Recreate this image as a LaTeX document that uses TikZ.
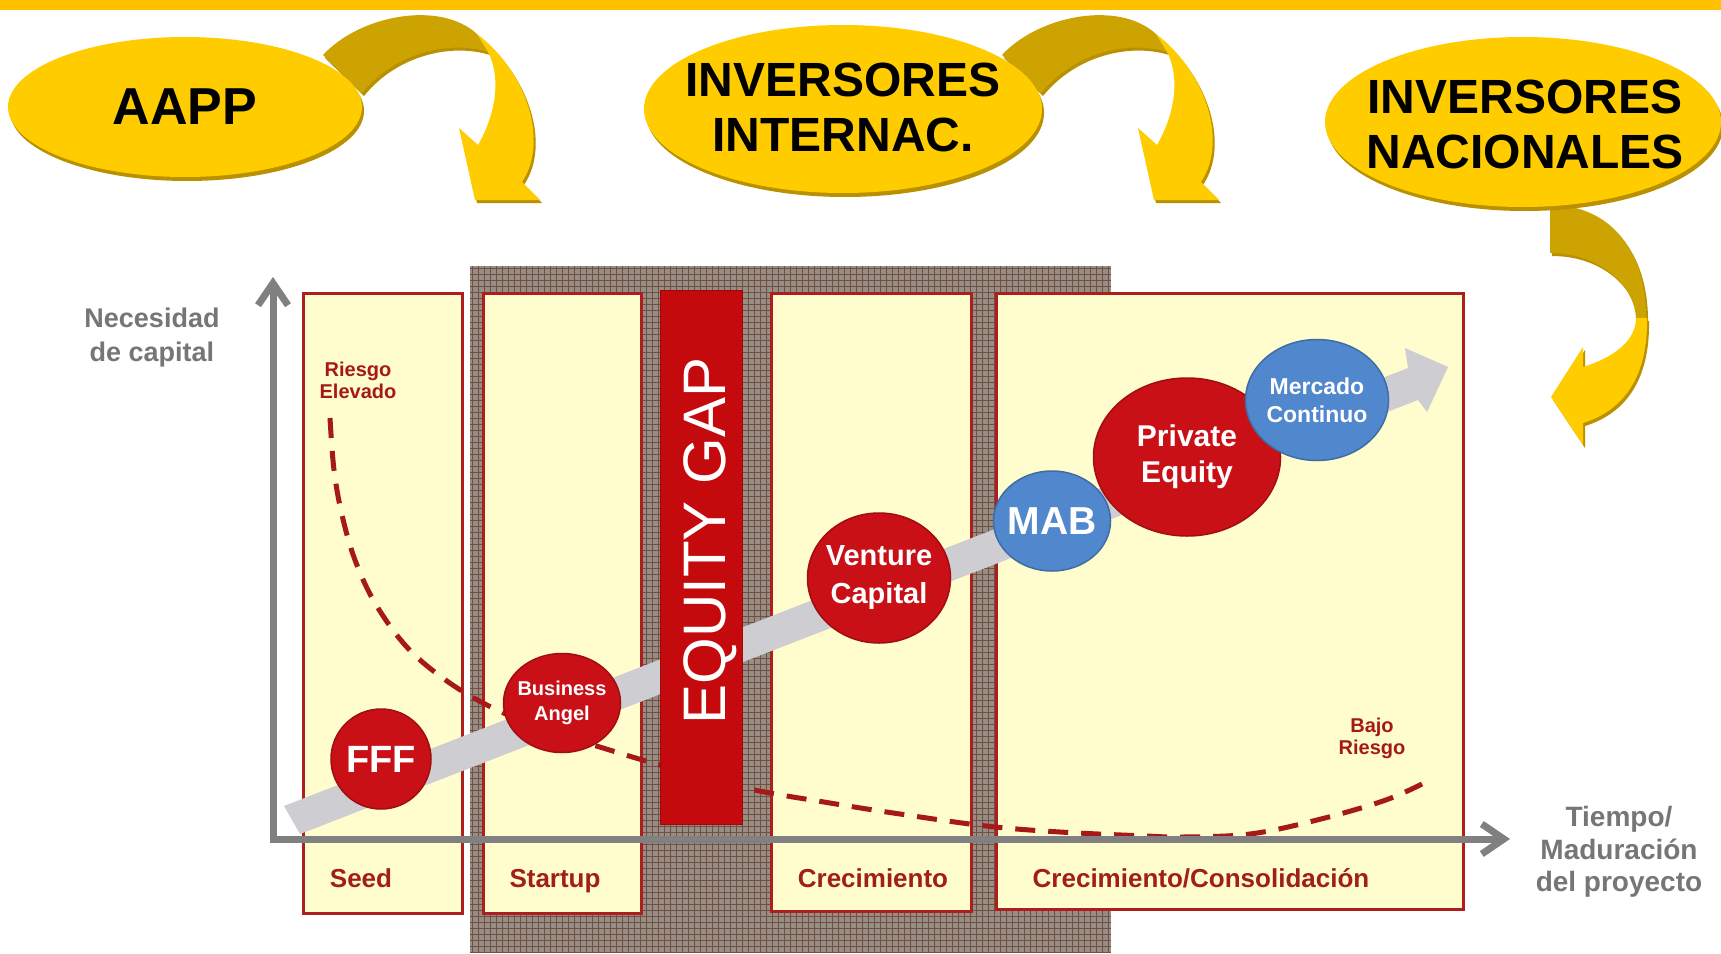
\documentclass[tikz,border=0pt]{standalone}
\usepackage{fontspec}
\setmainfont{Liberation Sans}
\usetikzlibrary{arrows.meta,shapes.geometric,shadows}

\definecolor{topbar}{RGB}{255,192,0}
\definecolor{gold}{RGB}{255,204,0}
\definecolor{darkgold}{RGB}{204,163,0}
\definecolor{goldshadow}{RGB}{185,145,0}
\definecolor{paper}{RGB}{255,252,205}
\definecolor{frame}{RGB}{175,30,30}
\definecolor{stagered}{RGB}{160,30,30}
\definecolor{riskred}{RGB}{165,25,25}
\definecolor{gapred}{RGB}{196,10,12}
\definecolor{ballred}{RGB}{200,16,22}
\definecolor{ballblue}{RGB}{80,135,205}
\definecolor{axisgrey}{RGB}{128,128,128}
\definecolor{labelgrey}{RGB}{118,118,118}
\definecolor{bandgrey}{RGB}{205,205,210}
\definecolor{meshbg}{RGB}{150,142,130}
\definecolor{meshline}{RGB}{115,78,68}

\begin{document}
\begin{tikzpicture}[x=1pt,y=-1pt,
  bubble/.style={ellipse,fill=gold,inner sep=0pt,drop shadow={shadow xshift=2pt,shadow yshift=-4pt,fill=goldshadow,opacity=1}},
  bubbletext/.style={align=center,font=\fontsize{48}{55}\selectfont\bfseries},
  goldshade/.style={drop shadow={shadow xshift=2pt,shadow yshift=-3pt,fill=goldshadow,opacity=1}},
  stagebox/.style={draw=frame,line width=2.5pt,fill=paper,anchor=north west,inner sep=0pt},
  stagename/.style={text=stagered,anchor=base,font=\fontsize{26}{30}\selectfont\bfseries},
  risk/.style={text=riskred,align=center,font=\fontsize{20}{22}\selectfont\bfseries},
  ball/.style={ellipse,inner sep=0pt,line width=1.5pt},
  balltext/.style={text=white,align=center},
  axistext/.style={text=labelgrey,align=center},
  axisline/.style={axisgrey,line width=7pt,{Straight Barb[length=22pt,width=30pt]}-{Straight Barb[length=22pt,width=30pt]}}]

\useasboundingbox (0,0) rectangle (1721,953);
\fill[white] (0,0) rectangle (1721,953);
\fill[topbar] (0,0) rectangle (1721,10);

%curved arrows AAPP / internac.
\foreach \ax in {0,679}{
\begin{scope}[xshift=\ax]
\fill[darkgold,goldshade] (323,55) .. controls (360,15) and (440,0) .. (477,34) -- (488,52) .. controls (450,40) and (395,52) .. (362,93) -- cycle;
\fill[gold,goldshade] (477,34) .. controls (525,70) and (550,140) .. (522,182) -- (540,200) -- (475,200) -- (459,128) -- (478,145) .. controls (498,110) and (500,75) .. (488,52) -- cycle;
\end{scope}
}

%curved arrow nacionales
\fill[darkgold,goldshade] (1550,205) .. controls (1610,205) and (1646,250) .. (1646,318) -- (1636,318) .. controls (1634,285) and (1600,253) .. (1550,253) -- cycle;
\fill[gold,goldshade] (1636,318) -- (1647,318) .. controls (1648,375) and (1625,410) .. (1583,423) -- (1583,445) -- (1551,397) -- (1583,347) -- (1583,367) .. controls (1615,357) and (1636,340) .. (1636,318) -- cycle;

%investors
\node[bubble,minimum width=354pt,minimum height=140pt] (aapp) at (185,107) {};
\node[bubbletext,font=\fontsize{52}{55}\selectfont\bfseries] (aapptxt) at (aapp) {AAPP};
\node[bubble,minimum width=398pt,minimum height=168pt] (intl) at (843,109) {};
\node[bubbletext] (intltxt) at (843,107) {INVERSORES\\INTERNAC.};
\node[bubble,minimum width=396pt,minimum height=170pt] (natl) at (1523,122) {};
\node[bubbletext] (natltxt) at (1525,124) {INVERSORES\\NACIONALES};

%mesh behind the gap
\fill[meshbg] (470,266) rectangle (1111,953);
\foreach \gx in {472,478,...,1111} \draw[meshline,line width=1pt] (\gx,266) -- (\gx,953);
\foreach \gy in {268,274,...,953} \draw[meshline,line width=1pt] (470,\gy) -- (1111,\gy);

%stages
\node[stagebox,minimum width=159pt,minimum height=620pt] (seed) at (302,292) {};
\node[stagebox,minimum width=158pt,minimum height=620pt] (startup) at (482,292) {};
\node[stagebox,minimum width=200pt,minimum height=618pt] (growth) at (770,292) {};
\node[stagebox,minimum width=467pt,minimum height=616pt] (consol) at (995,292) {};

\node[stagename] (seedtxt) at (361,887) {Seed};
\node[stagename] (startuptxt) at (555,887) {Startup};
\node[stagename] (growthtxt) at (873,887) {Crecimiento};
\node[stagename] (consoltxt) at (1201,887) {Crecimiento/Consolidación};

%risk curve
\draw[riskred,line width=5pt,dash pattern=on 20pt off 13pt] plot[smooth,tension=0.6] coordinates {(330,418) (334,470) (342,515) (355,560) (375,603) (405,645) (440,676) (483,703) (540,728) (603,748) (660,765) (745,788) (830,803) (900,814) (986,826) (1060,832) (1146,836) (1183,837) (1250,834) (1317,820) (1383,801) (1422,784)};
\node[risk] (high) at (358,380) {Riesgo\\Elevado};
\node[risk] (low) at (1372,738) {Bajo\\Riesgo};

%growth band
\fill[bandgrey] (284,806) -- (1408,368) -- (1405,348) -- (1448,367) -- (1427,412) -- (1418,400) -- (300,834) -- cycle;

%equity gap
\node[draw=gapred!80!black,fill=gapred,minimum width=82pt,minimum height=534pt,anchor=north west,inner sep=0pt] (gapbar) at (660,290) {};
\node[rotate=90,anchor=base,text=white,font=\fontsize{60}{60}\selectfont] (gaptxt) at (725,541) {EQUITY GAP};

%sources
\node[ball,fill=ballred,draw=ballred!80!black,minimum width=100pt,minimum height=100pt] (fff) at (381,759) {};
\node[balltext,font=\fontsize{38}{40}\selectfont\bfseries] (ffftxt) at (fff) {FFF};
\node[ball,fill=ballred,draw=ballred!80!black,minimum width=117pt,minimum height=99pt] (angel) at (562,703) {};
\node[balltext,font=\fontsize{20}{25}\selectfont\bfseries] (angeltxt) at (angel) {Business\\Angel};
\node[ball,fill=ballred,draw=ballred!80!black,minimum width=143pt,minimum height=130pt] (vc) at (879,578) {};
\node[balltext,font=\fontsize{29}{38}\selectfont\bfseries] (vctxt) at (vc) {Venture\\Capital};
\node[ball,fill=ballred,draw=ballred!80!black,minimum width=187pt,minimum height=158pt] (pe) at (1187,457) {};
\node[balltext,font=\fontsize{30}{36}\selectfont\bfseries] (petxt) at (pe) {Private\\Equity};
\node[ball,fill=ballblue,draw=ballblue!80!black,minimum width=117pt,minimum height=100pt] (mab) at (1052,521) {};
\node[balltext,font=\fontsize{39}{40}\selectfont\bfseries] (mabtxt) at (mab) {MAB};
\node[ball,fill=ballblue,draw=ballblue!80!black,minimum width=143pt,minimum height=121pt] (mc) at (1317,400) {};
\node[balltext,font=\fontsize{23}{28}\selectfont\bfseries] (mctxt) at (mc) {Mercado\\Continuo};

%axes
\coordinate (ytip) at (273,277);
\coordinate (origin) at (273,839);
\coordinate (xtip) at (1510,839);
\draw[axisline] (ytip) -- (origin) -- (xtip);
\node[axistext,font=\fontsize{27}{34}\selectfont\bfseries] (need) at (152,338) {Necesidad\\de capital};
\node[axistext,font=\fontsize{28}{32.5}\selectfont\bfseries] (time) at (1619,852) {Tiempo/\\Maduración\\del proyecto};
\end{tikzpicture}
\end{document}
